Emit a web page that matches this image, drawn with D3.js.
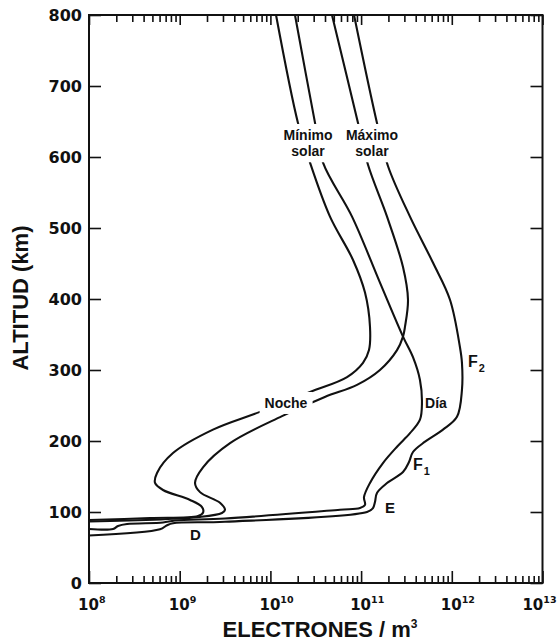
<!DOCTYPE html>
<html>
<head>
<meta charset="utf-8">
<script src="https://cdn.jsdelivr.net/npm/d3@7"></script>
<style>
  html, body { margin: 0; padding: 0; background: #fff; }
  svg { display: block; }
</style>
</head>
<body>
<svg id="chart" width="557" height="641"></svg>
<script>
// ---- Data (log10 of electron density in m^-3, altitude in km) ----
const nocheMinLog = [10.062, 10.304, 10.437, 10.657, 10.911, 11.043, 11.098, 11.087, 11.021, 10.845, 10.437, 9.885, 9.367, 8.926, 8.750, 8.728, 8.816, 9.114, 9.246, 9.257, 9.202, 8.673, 8.0];
const nocheMinAlt = [800, 648, 592, 516, 455, 409, 361, 328, 310, 290, 269, 241, 216, 183, 155, 141, 131, 117, 107, 99, 94.5, 91.5, 88.7];

const nocheMaxLog = [10.679, 10.966, 11.076, 11.286, 11.462, 11.517, 11.484, 11.462, 11.396, 11.208, 10.955, 10.600, 10.128, 9.555, 9.257, 9.169, 9.224, 9.444, 9.499, 9.466, 9.224, 8.0];
const nocheMaxAlt = [800, 648, 589, 516, 445, 399, 361, 347, 328, 300, 279, 262, 235, 197, 163, 141, 128, 113, 103, 98.6, 93, 86.6];

const diaMinLog = [10.271, 10.492, 10.580, 10.900, 11.208, 11.462, 11.572, 11.649, 11.671, 11.649, 11.539, 11.396, 11.241, 11.098, 11.032, 11.043, 10.988, 10.767, 9.499, 8.948, 8.816, 8.419, 8.320, 8.265, 8.0];
const diaMinAlt = [800, 648, 592, 516, 423, 347, 318, 286, 254, 230, 211, 192, 169, 141, 121, 110, 105.6, 103.2, 90.8, 88.0, 85.2, 83.1, 80.3, 76.1, 76.1];

const diaMaxLog = [10.922, 11.175, 11.297, 11.539, 11.793, 11.980, 12.090, 12.112, 12.112, 12.057, 11.903, 11.705, 11.572, 11.528, 11.462, 11.286, 11.175, 11.153, 11.131, 11.065, 9.499, 8.926, 8.860, 8.783, 8.0];
const diaMaxAlt = [800, 648, 587, 516, 451, 399, 332, 310, 272, 234, 216, 199, 184.5, 170.4, 156.3, 140.8, 126.8, 114.1, 105.6, 100, 86.3, 84.1, 81.3, 75.6, 66.9];

const decadeTicks = [1e8, 1e9, 1e10, 1e11, 1e12, 1e13];
const decadeExponents = ["8", "9", "10", "11", "12", "13"];
const altTicks = [0, 100, 200, 300, 400, 500, 600, 700, 800];

// ---- Layout ----
const W = 557;
const svg = d3.select("#chart");
const x = d3.scaleLog().domain([1e8, 1e13]).range([89, 542.5]);
const y = d3.scaleLinear().domain([0, 800]).range([583, 15]);

const minorTicks = [];
decadeTicks.slice(0, -1).forEach(d => { for (let k = 2; k <= 9; k++) minorTicks.push(d * k); });

const tickFont = "'DejaVu Sans', sans-serif";
const labelFont = "'Liberation Sans', Arial, sans-serif";

function styleAxis(g) {
  g.select(".domain").remove();
  g.selectAll(".tick line").attr("stroke", "#111").attr("stroke-width", 1.6);
}

// Bottom axis (major + minor)
svg.append("g").attr("transform", `translate(0,${y(0)})`)
  .call(d3.axisBottom(x).tickValues(minorTicks).tickSizeInner(-7).tickSizeOuter(0).tickFormat(""))
  .call(styleAxis);
const bottomMajor = svg.append("g").attr("transform", `translate(0,${y(0)})`)
  .call(d3.axisBottom(x).tickValues(decadeTicks).tickSizeInner(-12).tickSizeOuter(0).tickFormat(""))
  .call(styleAxis);
bottomMajor.selectAll(".tick").each(function(d, i) {
  const g = d3.select(this);
  const t = g.append("text")
    .attr("y", 27).attr("fill", "#111").attr("text-anchor", "start")
    .style("font-family", tickFont).style("font-weight", "bold").style("font-size", "15px");
  const base = t.append("tspan").text("10");
  t.append("tspan").attr("dy", -7).style("font-size", "9.5px").text(decadeExponents[i]);
  // centre the "10" on the tick, exponent hangs to the right
  const bw = base.node().getComputedTextLength();
  let x0 = -bw / 2 - 1;
  const tw = t.node().getComputedTextLength();
  const tickX = x(d);
  if (tickX + x0 + tw > W - 1) x0 = W - 1 - tickX - tw;
  t.attr("x", x0);
});

// Top axis
svg.append("g").attr("transform", `translate(0,${y(800)})`)
  .call(d3.axisTop(x).tickValues(minorTicks).tickSizeInner(-7).tickSizeOuter(0).tickFormat(""))
  .call(styleAxis);
svg.append("g").attr("transform", `translate(0,${y(800)})`)
  .call(d3.axisTop(x).tickValues(decadeTicks).tickSizeInner(-10).tickSizeOuter(0).tickFormat(""))
  .call(styleAxis);

// Left axis
const leftAx = svg.append("g").attr("transform", `translate(${x(1e8)},0)`)
  .call(d3.axisLeft(y).tickValues(altTicks).tickSizeInner(-12).tickSizeOuter(0).tickPadding(7).tickFormat(d3.format("d")))
  .call(styleAxis);
leftAx.selectAll(".tick text")
  .attr("fill", "#111")
  .style("font-family", tickFont).style("font-weight", "bold").style("font-size", "16px");

// Right axis
svg.append("g").attr("transform", `translate(${x(1e13)},0)`)
  .call(d3.axisRight(y).tickValues(altTicks).tickSizeInner(-12).tickSizeOuter(0).tickFormat(""))
  .call(styleAxis);

// Frame
svg.append("rect")
  .attr("x", x(1e8)).attr("y", y(800))
  .attr("width", x(1e13) - x(1e8)).attr("height", y(0) - y(800))
  .attr("fill", "none").attr("stroke", "#111").attr("stroke-width", 2);

// Curves
const line = d3.line()
  .x(d => x(Math.pow(10, d[0])))
  .y(d => y(d[1]))
  .curve(d3.curveCatmullRom.alpha(0.5));

const curves = [
  [nocheMinLog, nocheMinAlt],
  [nocheMaxLog, nocheMaxAlt],
  [diaMinLog, diaMinAlt],
  [diaMaxLog, diaMaxAlt]
];
curves.forEach(([lg, al]) => {
  svg.append("path")
    .datum(lg.map((v, i) => [v, al[i]]))
    .attr("d", line)
    .attr("fill", "none")
    .attr("stroke", "#111")
    .attr("stroke-width", 2.1)
    .attr("stroke-linejoin", "round");
});

// Labels with white background breaking the curves
function blockLabel(lines, cx, baselines, size, pad) {
  const g = svg.append("g");
  const rect = g.append("rect").attr("fill", "#fff");
  lines.forEach((s, i) => g.append("text")
    .attr("x", cx).attr("y", baselines[i]).attr("text-anchor", "middle")
    .attr("fill", "#111")
    .style("font-family", labelFont).style("font-weight", "bold").style("font-size", size + "px")
    .text(s));
  const bb = g.node().getBBox();
  rect.attr("x", bb.x - pad[0]).attr("y", bb.y - pad[1])
      .attr("width", bb.width + 2 * pad[0]).attr("height", bb.height + 2 * pad[1]);
}
blockLabel(["Mínimo", "solar"], x(Math.pow(10, 10.415)), [y(624), y(601)], 14, [4, 3]);
blockLabel(["Máximo", "solar"], x(Math.pow(10, 11.12)), [y(624), y(601)], 14, [4, 3]);
blockLabel(["Noche"], x(Math.pow(10, 10.172)), [y(246.5)], 14, [5, 3]);

function plainLabel(main, sub, lx, ly, size) {
  const t = svg.append("text").attr("x", lx).attr("y", ly)
    .attr("fill", "#111")
    .style("font-family", labelFont).style("font-weight", "bold").style("font-size", size + "px");
  t.append("tspan").text(main);
  if (sub) t.append("tspan").attr("dy", 5).attr("dx", 1).style("font-size", (size * 0.68) + "px").text(sub);
}
plainLabel("Día", null, x(Math.pow(10, 11.826)) - 11, y(246.5), 14);
plainLabel("F", "2", x(Math.pow(10, 12.179)), y(304), 16);
plainLabel("F", "1", x(Math.pow(10, 11.572)), y(159), 16);
plainLabel("E", null, x(Math.pow(10, 11.263)), y(98.6), 15);
plainLabel("D", null, x(Math.pow(10, 9.114)), y(60.6), 15);

// Axis titles
const xt = svg.append("text")
  .attr("x", 320).attr("y", 637).attr("text-anchor", "middle")
  .attr("fill", "#111")
  .style("font-family", labelFont).style("font-weight", "bold").style("font-size", "22px");
xt.append("tspan").text("ELECTRONES / m");
xt.append("tspan").attr("dy", -9).style("font-size", "12px").text("3");

svg.append("text")
  .attr("transform", "translate(28,298) rotate(-90)")
  .attr("text-anchor", "middle")
  .attr("fill", "#111")
  .style("font-family", labelFont).style("font-weight", "bold").style("font-size", "22px")
  .text("ALTITUD (km)");
</script>
</body>
</html>
